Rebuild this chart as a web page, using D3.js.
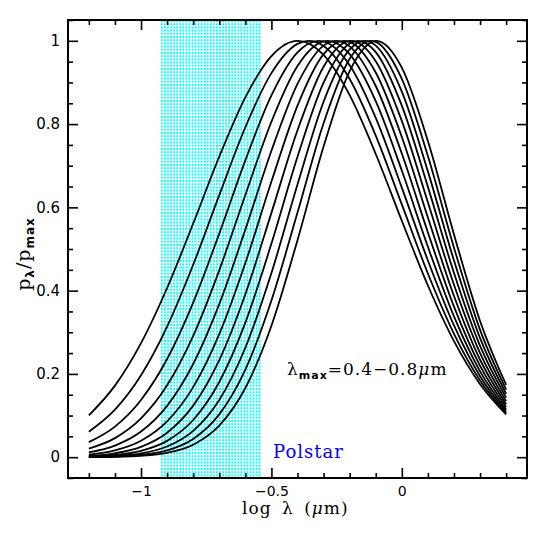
<!DOCTYPE html>
<html>
<head>
<meta charset="utf-8">
<script src="https://cdn.jsdelivr.net/npm/d3@7"></script>
<style>
  body { margin: 0; background: #fff; }
  svg { display: block; }
  .tickLab { font-family: "DejaVu Sans", sans-serif; fill: #000; }
  .serifLab { font-family: "DejaVu Serif", serif; fill: #000; }
</style>
</head>
<body>
<script>
// log wavelength grid (micron) the curves are sampled on
var logLam = [-1.2, -1.1, -1.0, -0.9, -0.8, -0.7, -0.6, -0.5, -0.4, -0.3, -0.2, -0.1, 0.0, 0.1, 0.2, 0.3, 0.4];

// lambda_max of each curve and where its peak sits on the log axis
var lamMax = [0.40, 0.44, 0.48, 0.52, 0.56, 0.60, 0.64, 0.68, 0.72, 0.76, 0.80];
var peakLog = [-0.398, -0.357, -0.319, -0.284, -0.252, -0.222, -0.194, -0.167, -0.143, -0.119, -0.097];

// p_lambda / p_max read along the grid, one row per lambda_max
var pRatio = [
  [0.1004, 0.1718, 0.2738, 0.4063, 0.5612, 0.7218, 0.8642, 0.9635, 1.0000, 0.9663, 0.8694, 0.7282, 0.5679, 0.4123, 0.2787, 0.1754, 0.1028],
  [0.0613, 0.1142, 0.1969, 0.3137, 0.4621, 0.6294, 0.7924, 0.9224, 0.9926, 0.9875, 0.9083, 0.7723, 0.6071, 0.4412, 0.2964, 0.1841, 0.1057],
  [0.0361, 0.0735, 0.1374, 0.2357, 0.3713, 0.5370, 0.7130, 0.8689, 0.9722, 0.9985, 0.9415, 0.8149, 0.6475, 0.4723, 0.3163, 0.1944, 0.1097],
  [0.0206, 0.0458, 0.0932, 0.1726, 0.2915, 0.4488, 0.6298, 0.8057, 0.9396, 0.9988, 0.9679, 0.8549, 0.6884, 0.5053, 0.3381, 0.2062, 0.1146],
  [0.0114, 0.0278, 0.0615, 0.1233, 0.2238, 0.3676, 0.5466, 0.7358, 0.8964, 0.9885, 0.9867, 0.8915, 0.7292, 0.5398, 0.3617, 0.2194, 0.1205],
  [0.0061, 0.0164, 0.0396, 0.0860, 0.1682, 0.2954, 0.4664, 0.6619, 0.8443, 0.9680, 0.9975, 0.9239, 0.7691, 0.5755, 0.3871, 0.2340, 0.1271],
  [0.0032, 0.0094, 0.0248, 0.0587, 0.1238, 0.2330, 0.3914, 0.5868, 0.7853, 0.9379, 0.9998, 0.9512, 0.8077, 0.6121, 0.4140, 0.2499, 0.1347],
  [0.0016, 0.0052, 0.0152, 0.0392, 0.0893, 0.1805, 0.3232, 0.5130, 0.7215, 0.8994, 0.9936, 0.9729, 0.8442, 0.6492, 0.4425, 0.2673, 0.1431],
  [0.0008, 0.0029, 0.0091, 0.0256, 0.0632, 0.1374, 0.2628, 0.4423, 0.6550, 0.8537, 0.9792, 0.9884, 0.8780, 0.6864, 0.4722, 0.2859, 0.1523],
  [0.0004, 0.0015, 0.0054, 0.0164, 0.0439, 0.1029, 0.2104, 0.3762, 0.5877, 0.8022, 0.9569, 0.9975, 0.9087, 0.7233, 0.5031, 0.3058, 0.1625],
  [0.0002, 0.0008, 0.0031, 0.0103, 0.0300, 0.0758, 0.1661, 0.3158, 0.5212, 0.7463, 0.9274, 0.9999, 0.9356, 0.7595, 0.5351, 0.3271, 0.1735]
];

// polstar band edges on the log axis
var polstarBand = [-0.92, -0.545];
var polstarLines = 33;

// tick values
var xMajor = [-1, -0.5, 0];
var xMinor = [-1.2, -1.1, -0.9, -0.8, -0.7, -0.6, -0.4, -0.3, -0.2, -0.1, 0.1, 0.2, 0.3, 0.4];
var xTickLabels = ["\u22121", "\u22120.5", "0"];
var yMajor = [0, 0.2, 0.4, 0.6, 0.8, 1];
var yMinor = [-0.05, 0.05, 0.1, 0.15, 0.25, 0.3, 0.35, 0.45, 0.5, 0.55, 0.65, 0.7, 0.75, 0.85, 0.9, 0.95, 1.05];
var yTickLabels = ["0", "0.2", "0.4", "0.6", "0.8", "1"];

var width = 540, height = 534;
var pad = {left: 68, right: 13, top: 20, bottom: 56};

var svg = d3.select("body")
            .append("svg")
            .attr("width", width)
            .attr("height", height);

var xScale = d3.scaleLinear()
               .domain([-1.28, 0.48])
               .range([pad.left, width - pad.right]);
var yScale = d3.scaleLinear()
               .domain([-0.05, 1.05])
               .range([height - pad.bottom, pad.top]);

// cyan dotted band for polstar
var bandX = d3.scaleLinear().domain([0, polstarLines - 1]).range(polstarBand);
svg.append("g")
   .attr("class", "polstar")
   .selectAll("line")
   .data(d3.range(polstarLines))
   .enter()
   .append("line")
   .attr("x1", function(d){ return xScale(bandX(d)); })
   .attr("x2", function(d){ return xScale(bandX(d)); })
   .attr("y1", yScale(1.05))
   .attr("y2", yScale(-0.05))
   .style("stroke", "#00ffff")
   .style("stroke-width", 1.8)
   .style("stroke-dasharray", "2,1.2");

// build series, peak point added so every curve tops out at 1
var series = lamMax.map(function(lm, i){
    var pts = logLam.map(function(x, j){ return {x: x, y: pRatio[i][j]}; });
    pts.push({x: peakLog[i], y: 1});
    pts.sort(function(a, b){ return a.x - b.x; });
    return pts;
});

var line = d3.line()
             .x(function(d){ return xScale(d.x); })
             .y(function(d){ return yScale(d.y); })
             .curve(d3.curveMonotoneX);

svg.append("g")
   .attr("class", "curves")
   .selectAll("path")
   .data(series)
   .enter()
   .append("path")
   .attr("d", line)
   .style("fill", "none")
   .style("stroke", "#000")
   .style("stroke-width", 1.8);

// axes, ticks point inward on all four sides
var plotW = width - pad.left - pad.right;
var plotH = height - pad.top - pad.bottom;

const addTicks = function(axis, pos, vals, size, labels){
    var g = svg.append("g")
               .attr("transform", pos)
               .call(axis.tickValues(vals).tickSize(size).tickSizeOuter(0)
                         .tickFormat(function(d, i){ return labels ? labels[i] : ""; })
                         .tickPadding(labels ? 6 : 0));
    g.select(".domain").remove();
    g.selectAll(".tick line").style("stroke", "#000").style("stroke-width", 1.6);
    return g;
};

var xb = addTicks(d3.axisBottom(xScale), "translate(0," + (height - pad.bottom) + ")", xMajor, -10, xTickLabels);
xb.selectAll("text").attr("class", "tickLab").style("font-size", "14px").attr("dy", "0.85em");
addTicks(d3.axisBottom(xScale), "translate(0," + (height - pad.bottom) + ")", xMinor, -5);
addTicks(d3.axisTop(xScale), "translate(0," + pad.top + ")", xMajor, -10);
addTicks(d3.axisTop(xScale), "translate(0," + pad.top + ")", xMinor, -5);

var yl = addTicks(d3.axisLeft(yScale), "translate(" + pad.left + ",0)", yMajor, -10, yTickLabels);
yl.selectAll("text").attr("class", "tickLab").style("font-size", "15px").attr("x", -8);
addTicks(d3.axisLeft(yScale), "translate(" + pad.left + ",0)", yMinor, -5);
addTicks(d3.axisRight(yScale), "translate(" + (width - pad.right) + ",0)", yMajor, -10);
addTicks(d3.axisRight(yScale), "translate(" + (width - pad.right) + ",0)", yMinor, -5);

// frame
svg.append("rect")
   .attr("x", pad.left)
   .attr("y", pad.top)
   .attr("width", plotW)
   .attr("height", plotH)
   .style("fill", "none")
   .style("stroke", "#000")
   .style("stroke-width", 2);

// x-axis label
var xLab = svg.append("text")
   .attr("class", "serifLab")
   .attr("x", 242)
   .attr("y", 514)
   .style("font-size", "17px")
   .style("letter-spacing", "1px")
   .style("word-spacing", "4px");
xLab.append("tspan").text("log \u03bb (");
xLab.append("tspan").style("font-style", "italic").text("\u03bc");
xLab.append("tspan").text("m)");

// y-axis label
var yLab = svg.append("text")
   .attr("class", "serifLab")
   .attr("transform", "translate(30,254) rotate(-90)")
   .style("text-anchor", "middle")
   .style("font-size", "19px")
   .style("letter-spacing", "1px");
yLab.append("tspan").text("p");
yLab.append("tspan").attr("dy", 4).style("font-size", "12px")
    .style("font-family", "DejaVu Sans, sans-serif").style("font-weight", "bold").text("\u03bb");
yLab.append("tspan").attr("dy", -4).text("/p");
yLab.append("tspan").attr("dy", 4).style("font-size", "12px")
    .style("font-family", "DejaVu Sans, sans-serif").style("font-weight", "bold").text("max");

// lambda_max annotation
var ann = svg.append("text")
   .attr("class", "serifLab")
   .attr("x", 287)
   .attr("y", 375)
   .style("font-size", "17px")
   .style("letter-spacing", "1px");
ann.append("tspan").text("\u03bb");
ann.append("tspan").attr("dy", 4).style("font-size", "11px")
   .style("font-family", "DejaVu Sans, sans-serif").style("font-weight", "bold").text("max");
ann.append("tspan").attr("dy", -4).text("=0.4\u22120.8");
ann.append("tspan").style("font-style", "italic").text("\u03bc");
ann.append("tspan").text("m");

// polstar label
svg.append("text")
   .attr("class", "serifLab")
   .attr("x", 273)
   .attr("y", 458)
   .style("font-size", "18px")
   .style("letter-spacing", "1px")
   .style("fill", "#0000ff")
   .text("Polstar");
</script>
</body>
</html>
